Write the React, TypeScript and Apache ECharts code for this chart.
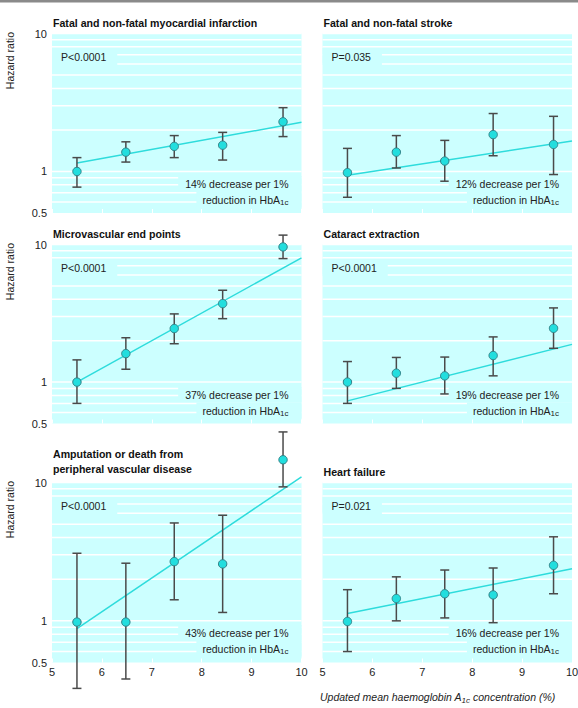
import React, { useEffect, useRef } from "react";
import * as echarts from "echarts";

// ---------- data ----------
const hba1c = [5.5, 6.48, 7.45, 8.42, 9.63];
const fitX = [5.5, 10];
const gridValues = [0.6, 0.7, 0.8, 0.9, 1, 2, 3, 4, 5, 6, 7, 8, 9, 10];
const xTicks = { min: 5, max: 10, step: 1 };
const yRange = { min: 0.5, max: 10 };

const miHR = [1.0, 1.38, 1.52, 1.55, 2.29];
const miLo = [0.77, 1.17, 1.26, 1.21, 1.79];
const miHi = [1.26, 1.64, 1.82, 1.92, 2.9];
const miFit = [1.15, 2.27];

const strokeHR = [0.98, 1.38, 1.19, 1.85, 1.57];
const strokeLo = [0.65, 1.06, 0.85, 1.3, 0.95];
const strokeHi = [1.47, 1.82, 1.68, 2.63, 2.51];
const strokeFit = [0.94, 1.66];

const microHR = [1.0, 1.61, 2.45, 3.72, 9.6];
const microLo = [0.7, 1.24, 1.9, 2.89, 7.9];
const microHi = [1.45, 2.1, 3.13, 4.65, 11.7];
const microFit = [1.0, 8.0];

const cataractHR = [1.0, 1.16, 1.11, 1.56, 2.46];
const cataractLo = [0.7, 0.9, 0.82, 1.11, 1.76];
const cataractHi = [1.41, 1.51, 1.52, 2.13, 3.46];
const cataractFit = [0.73, 1.88];

const amputHR = [0.98, 0.98, 2.68, 2.58, 14.6];
const amputLo = [0.325, 0.38, 1.42, 1.15, 9.3];
const amputHi = [3.08, 2.61, 5.1, 5.8, 23.2];
const amputFit = [0.88, 11.0];

const hfHR = [0.99, 1.45, 1.57, 1.54, 2.52];
const hfLo = [0.6, 1.0, 1.05, 0.97, 1.57];
const hfHi = [1.68, 2.08, 2.33, 2.41, 4.05];
const hfFit = [1.13, 2.38];

const titles = [
  ["Fatal and non-fatal myocardial infarction"],
  ["Fatal and non-fatal stroke"],
  ["Microvascular end points"],
  ["Cataract extraction"],
  ["Amputation or death from", "peripheral vascular disease"],
  ["Heart failure"],
];
const pValues = ["P<0.0001", "P=0.035", "P<0.0001", "P<0.0001", "P<0.0001", "P=0.021"];
const decreases = ["14%", "12%", "37%", "19%", "43%", "16%"];

const panels = [
  { hr: miHR, lo: miLo, hi: miHi, fit: miFit },
  { hr: strokeHR, lo: strokeLo, hi: strokeHi, fit: strokeFit },
  { hr: microHR, lo: microLo, hi: microHi, fit: microFit },
  { hr: cataractHR, lo: cataractLo, hi: cataractHi, fit: cataractFit },
  { hr: amputHR, lo: amputLo, hi: amputHi, fit: amputFit },
  { hr: hfHR, lo: hfLo, hi: hfHi, fit: hfFit },
];

// ---------- layout / style ----------
const FONT = "'Liberation Sans', Arial, Helvetica, sans-serif";
const BG = "#ccffff";
const LINE = "#2edcdc";
const POINT = "#22dede";
const BAR = "#4a4a4a";
const TEXT = "#222222";
const colLeft = [52, 322.5];
const colWidth = 249.5;
const rowTop = [33.5, 244.5, 482.5];
const rowHeight = [179.5, 179, 180];

function buildOption() {
  const grid: any[] = [];
  const xAxis: any[] = [];
  const yAxis: any[] = [];
  const series: any[] = [];
  const graphic: any[] = [];

  graphic.push({
    type: "rect",
    shape: { x: 0, y: 0, width: 578, height: 2.5 },
    style: { fill: "#8a8a8a" },
  });

  panels.forEach((p, i) => {
    const col = i % 2;
    const row = Math.floor(i / 2);
    const gx = colLeft[col];
    const gy = rowTop[row];
    const gw = colWidth;
    const gh = rowHeight[row];

    grid.push({
      left: gx,
      top: gy,
      width: gw,
      height: gh,
      show: true,
      backgroundColor: BG,
      borderWidth: 0,
      containLabel: false,
      outerBoundsMode: "none",
    });

    xAxis.push({
      gridIndex: i,
      type: "value",
      min: xTicks.min,
      max: xTicks.max,
      interval: xTicks.step,
      axisLine: { show: false },
      axisTick: { show: true, inside: true, length: 4, lineStyle: { color: "#ffffff", width: 1 } },
      splitLine: { show: false },
      axisLabel: {
        show: row === 2,
        fontSize: 11,
        color: TEXT,
        margin: 4,
        fontFamily: FONT,
      },
    });

    yAxis.push({
      gridIndex: i,
      type: "log",
      logBase: 10,
      min: yRange.min,
      max: yRange.max,
      axisLine: { show: false },
      axisTick: { show: false },
      splitLine: { show: false },
      axisLabel: {
        show: col === 0,
        fontSize: 11,
        color: TEXT,
        margin: 5,
        fontFamily: FONT,
        formatter: (v: number) => String(+Number(v).toPrecision(3)),
      },
    });

    // white horizontal grid lines at log minor ticks
    series.push({
      type: "custom",
      xAxisIndex: i,
      yAxisIndex: i,
      silent: true,
      z: 1,
      data: gridValues.map((v) => [xTicks.min, v]),
      renderItem: (params: any, api: any) => {
        const cs = params.coordSys;
        const pt = api.coord([api.value(0), api.value(1)]);
        return {
          type: "line",
          shape: { x1: cs.x, y1: pt[1], x2: cs.x + cs.width, y2: pt[1] },
          style: { stroke: "#ffffff", lineWidth: 1.5 },
        };
      },
    });

    // regression line
    series.push({
      type: "line",
      xAxisIndex: i,
      yAxisIndex: i,
      z: 2,
      clip: false,
      silent: true,
      symbol: "none",
      lineStyle: { color: LINE, width: 1.5 },
      data: fitX.map((x, k) => [x, p.fit[k]]),
    });

    // error bars + points
    series.push({
      type: "custom",
      xAxisIndex: i,
      yAxisIndex: i,
      z: 3,
      clip: false,
      silent: true,
      encode: { x: 0, y: [1, 2, 3] },
      data: hba1c.map((x, k) => [x, p.lo[k], p.hi[k], p.hr[k]]),
      renderItem: (params: any, api: any) => {
        const x = api.value(0);
        const lo = api.coord([x, api.value(1)]);
        const hi = api.coord([x, api.value(2)]);
        const c = api.coord([x, api.value(3)]);
        const cap = 4.5;
        const st = { stroke: BAR, lineWidth: 1.5 };
        return {
          type: "group",
          children: [
            { type: "line", shape: { x1: hi[0], y1: hi[1], x2: lo[0], y2: lo[1] }, style: st },
            { type: "line", shape: { x1: hi[0] - cap, y1: hi[1], x2: hi[0] + cap, y2: hi[1] }, style: st },
            { type: "line", shape: { x1: lo[0] - cap, y1: lo[1], x2: lo[0] + cap, y2: lo[1] }, style: st },
            {
              type: "circle",
              shape: { cx: c[0], cy: c[1], r: 4.2 },
              style: { fill: POINT, stroke: "#2f8288", lineWidth: 1 },
            },
          ],
        };
      },
    });

    // panel title
    const t = titles[i];
    t.forEach((line, li) => {
      const yy = t.length === 1 ? gy - 10.5 : gy - 28.5 + li * 15.3;
      graphic.push({
        type: "text",
        x: gx + 1,
        y: yy,
        style: {
          text: line,
          fontSize: 10.6,
          fontWeight: "bold",
          fontFamily: FONT,
          fill: "#111",
          align: "left",
          verticalAlign: "middle",
        },
      });
    });

    // P value
    graphic.push({
      type: "text",
      x: gx,
      y: gy + 23,
      z: 10,
      style: {
        text: pValues[i],
        fontSize: 10.5,
        fontFamily: FONT,
        fill: TEXT,
        align: "left",
        verticalAlign: "middle",
        backgroundColor: BG,
        padding: [3, 11, 3, 9],
      },
    });

    // annotation
    graphic.push({
      type: "text",
      x: gx + gw,
      y: gy + 150,
      z: 10,
      style: {
        text: decreases[i] + " decrease per 1%",
        fontSize: 10.5,
        fontFamily: FONT,
        fill: TEXT,
        align: "right",
        verticalAlign: "middle",
        backgroundColor: BG,
        padding: [2, 13, 2, 7],
      },
    });
    graphic.push({
      type: "text",
      x: gx + gw,
      y: gy + 166,
      z: 10,
      style: {
        text: "reduction in HbA{s|1c}",
        fontSize: 10.5,
        fontFamily: FONT,
        fill: TEXT,
        lineHeight: 14,
        align: "right",
        verticalAlign: "middle",
        backgroundColor: BG,
        padding: [1, 13, 1, 6],
        rich: {
          s: { fontSize: 8, lineHeight: 8, verticalAlign: "bottom", fontFamily: FONT, fill: TEXT },
        },
      },
    });

    // y axis title
    if (col === 0) {
      graphic.push({
        type: "text",
        x: 9.5,
        y: gy - 1.5,
        rotation: Math.PI / 2,
        style: {
          text: "Hazard ratio",
          fontSize: 10.5,
          fontFamily: FONT,
          fill: TEXT,
          align: "right",
          verticalAlign: "middle",
        },
      });
    }
  });

  // x axis title
  graphic.push({
    type: "text",
    x: 437.5,
    y: 697,
    style: {
      text: "Updated mean haemoglobin A{s|1c} concentration (%)",
      fontSize: 10.5,
      fontStyle: "italic",
      fontFamily: FONT,
      fill: TEXT,
      lineHeight: 14,
      align: "center",
      verticalAlign: "middle",
      rich: {
        s: { fontSize: 8, lineHeight: 8, verticalAlign: "bottom", fontStyle: "italic", fontFamily: FONT, fill: TEXT },
      },
    },
  });

  return {
    animation: false,
    backgroundColor: "#ffffff",
    textStyle: { fontFamily: FONT },
    grid,
    xAxis,
    yAxis,
    series,
    graphic,
  };
}

export default function App() {
  const ref = useRef<HTMLDivElement>(null);
  useEffect(() => {
    if (!ref.current) return;
    const chart = echarts.init(ref.current, undefined, { renderer: "svg" });
    chart.setOption(buildOption() as any);
    return () => chart.dispose();
  }, []);
  return (
    <div
      ref={ref}
      style={{ position: "absolute", left: 0, top: 0, width: 578, height: 708, background: "#fff" }}
    />
  );
}
